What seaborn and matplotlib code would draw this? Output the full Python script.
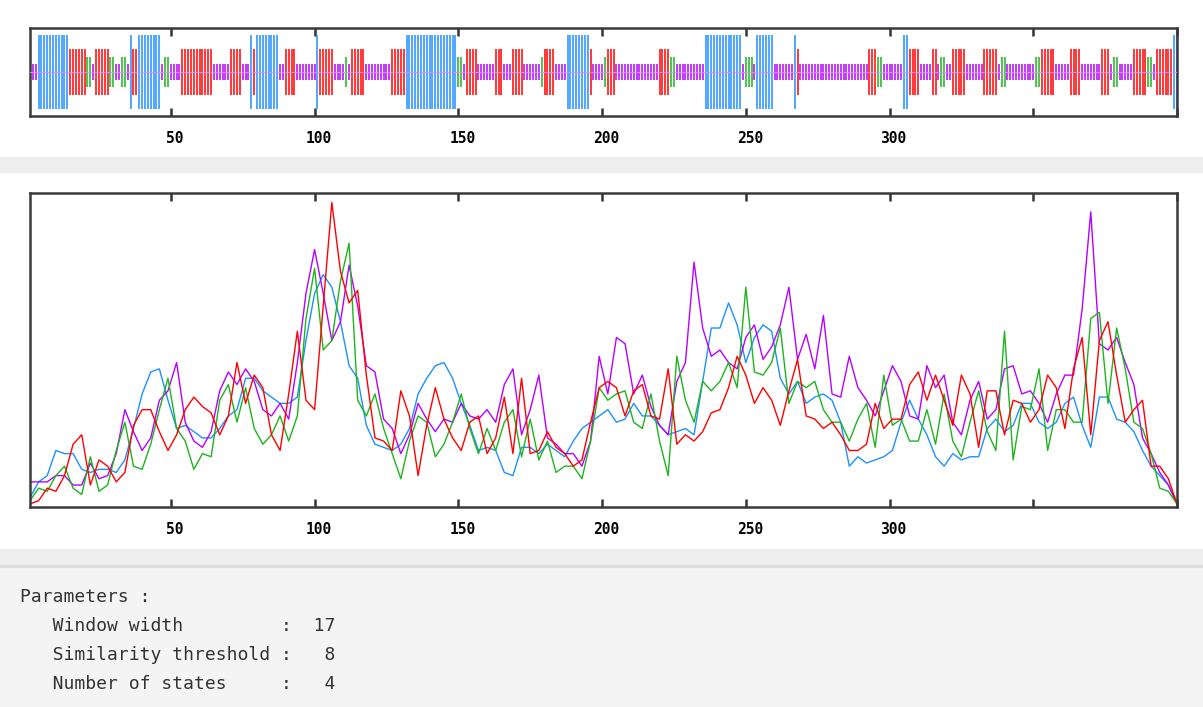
import numpy as np
import pandas as pd
import matplotlib.pyplot as plt
import seaborn as sns
from matplotlib.patches import Rectangle
from matplotlib.transforms import ScaledTranslation

# predicted state of each residue, run-length coded
# h = helix, e = extended strand, t = turn, c = coil
run_states = ['c', 'h', 'e', 't', 'c', 'e', 't', 'c', 't', 'c',
              'h', 'e', 'h', 'c', 't', 'c', 'e', 'c', 'e', 'c',
              'h', 'e', 'h', 'c', 'e', 'c', 'h', 'e', 'c', 't',
              'c', 'e', 'c', 'e', 'h', 't', 'c', 'e', 'c', 'e',
              'c', 'e', 'c', 't', 'e', 'c', 'h', 'e', 'c', 't',
              'e', 'c', 'e', 't', 'c', 'h', 'c', 't', 'c', 'h',
              'c', 'h', 'e', 'c', 'e', 't', 'c', 'h', 'e', 'c',
              'e', 'c', 't', 'c', 'e', 'c', 'e', 'c', 't', 'c',
              't', 'e', 'c', 'e', 'c', 'e', 'c', 't', 'c', 'e',
              't', 'c', 'e', 'h']
run_lengths = [3, 11, 6, 2, 1, 5, 2, 2, 2, 1,
               1, 2, 8, 1, 2, 4, 11, 6, 4, 3,
               1, 1, 8, 2, 4, 7, 1, 5, 4, 1,
               1, 5, 9, 5, 18, 2, 1, 4, 6, 3,
               3, 4, 6, 1, 4, 4, 8, 1, 4, 1,
               3, 15, 4, 2, 10, 13, 1, 3, 1, 6,
               7, 1, 1, 24, 3, 2, 7, 2, 4, 4,
               2, 1, 2, 2, 5, 6, 5, 1, 2, 10,
               2, 5, 5, 4, 7, 3, 1, 2, 5, 5,
               2, 1, 6, 2]

# state scores along the sequence, read every 3 residues (0 = panel bottom, 100 = top)
residues = list(range(1, 401, 3))
helix = [3, 8, 10, 18, 17, 17, 12, 11, 12, 12, 11, 15, 25, 36, 43, 44, 34, 25, 26,
         24, 22, 22, 25, 29, 31, 41, 41, 37, 35, 33, 33, 35, 53, 68, 74, 70, 59, 45, 41,
         26, 20, 19, 18, 20, 25, 36, 41, 45, 46, 41, 33, 26, 18, 19, 18, 11, 10, 19,
         19, 17, 20, 18, 16, 21, 25, 27, 29, 31, 27, 28, 33, 29, 29, 26, 23, 24, 25,
         23, 40, 57, 57, 65, 58, 46, 54, 58, 56, 41, 36, 40, 33, 35, 36, 34, 27, 13,
         16, 14, 15, 16, 18, 27, 34, 28, 23, 16, 13, 17, 15, 16, 16, 25, 28, 24, 26,
         33, 33, 27, 25, 27, 33, 35, 26, 19, 35, 35, 28, 27, 24, 18, 13, 10, 7, 1]
extended = [1, 2, 6, 5, 10, 20, 23, 7, 15, 13, 8, 11, 26, 31, 31, 24, 18, 23, 31,
            35, 32, 30, 23, 29, 46, 33, 42, 38, 23, 18, 36, 56, 34, 31, 64, 97, 75, 65, 69,
            42, 22, 21, 18, 37, 29, 10, 26, 38, 28, 22, 18, 27, 29, 17, 22, 35, 17, 41,
            17, 18, 24, 19, 17, 13, 15, 27, 38, 40, 38, 29, 37, 39, 29, 28, 44, 20, 23,
            21, 24, 30, 31, 38, 48, 42, 33, 38, 34, 26, 37, 47, 29, 28, 25, 27, 23, 18,
            18, 20, 33, 25, 28, 28, 39, 43, 34, 42, 34, 26, 42, 36, 19, 37, 37, 23, 34,
            33, 27, 31, 42, 38, 25, 44, 54, 23, 53, 59, 42, 27, 31, 34, 13, 13, 9, 1]
turn = [2, 6, 5, 10, 13, 6, 4, 16, 5, 7, 18, 27, 13, 12, 20, 31, 41, 25, 21,
        12, 17, 16, 34, 39, 27, 38, 25, 20, 23, 29, 21, 29, 60, 76, 50, 53, 72, 84, 34,
        29, 36, 25, 17, 9, 21, 29, 27, 16, 20, 27, 36, 25, 17, 25, 18, 27, 31, 16,
        28, 15, 21, 11, 13, 13, 9, 21, 38, 34, 36, 37, 27, 25, 36, 21, 10, 48, 34,
        27, 40, 37, 40, 46, 38, 70, 43, 42, 46, 57, 33, 40, 38, 40, 31, 27, 27, 21,
        28, 33, 19, 42, 26, 28, 21, 21, 31, 20, 36, 21, 16, 27, 37, 24, 18, 56, 15,
        32, 31, 44, 18, 31, 31, 27, 27, 60, 62, 33, 57, 44, 27, 25, 17, 6, 5, 1]
coil = [8, 8, 8, 10, 10, 7, 7, 14, 9, 10, 17, 31, 24, 18, 22, 34, 37, 46, 27,
        21, 19, 24, 37, 43, 39, 44, 40, 31, 29, 33, 28, 46, 68, 82, 68, 53, 59, 77, 64,
        45, 43, 28, 25, 17, 23, 33, 28, 24, 28, 27, 33, 29, 28, 31, 27, 39, 44, 23,
        31, 42, 22, 20, 17, 17, 13, 21, 48, 36, 54, 52, 36, 42, 32, 26, 23, 40, 46,
        78, 57, 48, 50, 46, 44, 54, 58, 47, 51, 58, 70, 47, 55, 44, 61, 36, 35, 48,
        38, 34, 29, 37, 45, 40, 29, 28, 45, 38, 42, 27, 23, 34, 40, 28, 31, 44, 45,
        36, 37, 33, 27, 36, 42, 42, 63, 94, 52, 50, 54, 46, 39, 22, 17, 11, 7, 1]

tick_values = [50, 100, 150, 200, 250, 300, 350, 400]
tick_labels = ['50', '100', '150', '200', '250', '300', '', '']

param_lines = ['Parameters :',
               '   Window width         :  17',
               '   Similarity threshold :   8',
               '   Number of states     :   4']

colors = {'h': '#1e90ff', 'e': '#ff0000', 't': '#1db41d', 'c': '#b700ff'}
half_height = {'h': 0.83, 'e': 0.52, 't': 0.34, 'c': 0.19}

seq = np.repeat(run_states, run_lengths)
pos = np.arange(1, len(seq) + 1)

df = pd.DataFrame({'residue': residues * 4,
                   'score': coil + helix + turn + extended,
                   'state': ['c'] * len(coil) + ['h'] * len(helix)
                            + ['t'] * len(turn) + ['e'] * len(extended)})

sns.set_style("white")
plt.rcParams['font.family'] = ['DejaVu Sans Mono']

W, H = 1203, 707
fig = plt.figure(figsize=(W / 100, H / 100), dpi=100)

def band(y0, y1, color):
    fig.patches.append(Rectangle((0, 1 - y1 / H), 1, (y1 - y0) / H,
                                 transform=fig.transFigure, color=color, zorder=0))

band(157, 172, '#eeeeee')
band(549, 565, '#eeeeee')
band(565, 707, '#f4f4f4')
band(565, 567, '#dddddd')

ax1 = fig.add_axes([30 / W, 1 - 116 / H, 1147 / W, 88 / H])
ax2 = fig.add_axes([30 / W, 1 - 507 / H, 1147 / W, 314 / H])

# sequence bar code
for s in ['c', 't', 'e', 'h']:
    m = seq == s
    ax1.vlines(pos[m], -half_height[s], half_height[s], color=colors[s], lw=1.1)
ax1.axhline(0, color='#d98cff', lw=0.8, zorder=3)
ax1.set_ylim(-1, 1)

# score curves
sns.lineplot(data=df, x='residue', y='score', hue='state', hue_order=['h', 'c', 't', 'e'],
             palette=colors, lw=1.0, legend=False, ax=ax2)
ax2.set_ylim(0, 100)

shift = ScaledTranslation(4 / 100, 0, fig.dpi_scale_trans)
for ax in [ax1, ax2]:
    ax.set_xlim(1, 400)
    ax.set_xlabel('')
    ax.set_ylabel('')
    ax.set_yticks([])
    ax.set_xticks(tick_values, tick_labels, fontweight='bold', fontsize=10.5)
    ax.tick_params(axis='x', direction='in', top=True, bottom=True, length=6, width=1.8,
                   color='#333333', pad=11, labelcolor='black')
    for lbl in ax.get_xticklabels():
        lbl.set_transform(lbl.get_transform() + shift)
    for sp in ax.spines.values():
        sp.set_color('#3a3a3a')
        sp.set_linewidth(1.8)

for i, line in enumerate(param_lines):
    fig.text(20 / W, 1 - (597 + 29 * i) / H, line, va='center', ha='left',
             fontsize=13, color='#333333')

fig.savefig('out.png', dpi=100)
